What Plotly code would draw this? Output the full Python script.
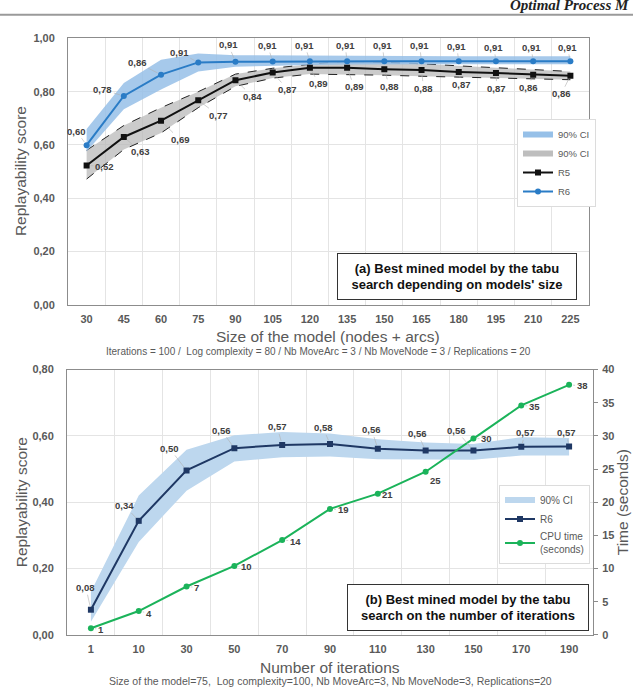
import plotly.graph_objects as go

# ---------------- data: chart (a) ----------------
size_cats = ["30", "45", "60", "75", "90", "105", "120", "135", "150", "165", "180", "195", "210", "225"]
r5 = [0.523, 0.630, 0.691, 0.768, 0.843, 0.872, 0.890, 0.890, 0.884, 0.881, 0.874, 0.870, 0.864, 0.860]
r5_lo = [0.472, 0.583, 0.645, 0.740, 0.820, 0.851, 0.866, 0.865, 0.862, 0.858, 0.855, 0.851, 0.848, 0.845]
r5_hi = [0.580, 0.673, 0.740, 0.800, 0.866, 0.888, 0.903, 0.915, 0.910, 0.905, 0.897, 0.890, 0.882, 0.876]
r6 = [0.599, 0.784, 0.864, 0.910, 0.912, 0.913, 0.914, 0.914, 0.914, 0.914, 0.914, 0.914, 0.914, 0.914]
r6_lo = [0.575, 0.734, 0.808, 0.876, 0.894, 0.898, 0.900, 0.902, 0.903, 0.903, 0.903, 0.903, 0.903, 0.903]
r6_hi = [0.660, 0.833, 0.920, 0.943, 0.937, 0.936, 0.936, 0.935, 0.933, 0.933, 0.933, 0.933, 0.933, 0.933]

# ---------------- data: chart (b) ----------------
iter_cats = ["1", "10", "30", "50", "70", "90", "110", "130", "150", "170", "190"]
r6b = [0.076, 0.344, 0.496, 0.563, 0.573, 0.576, 0.561, 0.556, 0.556, 0.567, 0.568]
r6b_lo = [0.040, 0.280, 0.435, 0.523, 0.536, 0.538, 0.530, 0.530, 0.528, 0.541, 0.541]
r6b_hi = [0.130, 0.420, 0.558, 0.602, 0.612, 0.607, 0.590, 0.580, 0.576, 0.596, 0.594]
cpu = [1.0, 3.6, 7.3, 10.4, 14.3, 19.0, 21.3, 24.6, 29.6, 34.6, 37.7]

# label offsets (pixels) – styling only
r6_off = [(-10, -14), (-21, -6), (-24, -12), (-19, -10), (-7, -17), (-5, -16), (-5, -16),
          (-2, -16), (-2, -16), (-2, -16), (-2, -15), (-2, -14), (-2, -14), (-3, -14)]
r5_off = [(18, 1), (17, 15), (19, 19), (20, 15), (17, 16), (15, 17), (9, 16),
          (7, 19), (5, 17), (2, 18), (3, 13), (1, 15), (-5, 13), (-9, 18)]
r6b_off = [(-5, -22), (-14, -15), (-17, -22), (-13, -18), (-5, -18), (-7, -16),
           (-6, -19), (-8, -17), (-17, -20), (4, -14), (-3, -14)]
cpu_off = [(10, 1), (10, 2), (10, 1), (12, 1), (13, 1), (13, 1), (10, 1), (10, 9), (13, 0), (13, 1), (13, 1)]

W, H = 633, 693
def px(x):
    return x / W
def py(y):
    return 1 - y / H

FONT = "Liberation Sans"
GRID = "#e4e4e4"
LINE = "#8c8c8c"
TICKF = dict(family=FONT, size=11, color="#595959", weight="bold")

BLUE = "#2a7cc6"
BLUE_BAND = "rgba(150,192,232,0.85)"
GRAY_BAND = "rgba(185,185,185,0.75)"
NAVY = "#1f3864"
BAND_B = "#bdd7ee"
GREEN = "#1bb35a"

fig = go.Figure()

# ---- chart (a) ----
fig.add_trace(go.Scatter(x=size_cats, y=r5_lo, mode="lines", line=dict(color="#222", width=1, dash="dash"),
                         showlegend=False, hoverinfo="skip", xaxis="x", yaxis="y"))
fig.add_trace(go.Scatter(x=size_cats, y=r5_hi, mode="lines", line=dict(color="#222", width=1, dash="dash"),
                         fill="tonexty", fillcolor=GRAY_BAND, showlegend=False, hoverinfo="skip", xaxis="x", yaxis="y"))
fig.add_trace(go.Scatter(x=size_cats, y=r6_lo, mode="lines", line=dict(width=0, color=BLUE_BAND),
                         showlegend=False, hoverinfo="skip", xaxis="x", yaxis="y"))
fig.add_trace(go.Scatter(x=size_cats, y=r6_hi, mode="lines", line=dict(width=0, color=BLUE_BAND),
                         fill="tonexty", fillcolor=BLUE_BAND, showlegend=False, hoverinfo="skip", xaxis="x", yaxis="y"))
# legend dummies
fig.add_trace(go.Scatter(x=[None], y=[None], mode="lines", line=dict(color="rgb(150,192,232)", width=6),
                         name="90% CI", legend="legend", xaxis="x", yaxis="y"))
fig.add_trace(go.Scatter(x=[None], y=[None], mode="lines", line=dict(color="rgb(190,190,190)", width=6),
                         name="90% CI", legend="legend", xaxis="x", yaxis="y"))
fig.add_trace(go.Scatter(x=size_cats, y=r5, mode="lines+markers", name="R5",
                         line=dict(color="#111111", width=2), marker=dict(symbol="square", size=6, color="#111111"),
                         legend="legend", xaxis="x", yaxis="y"))
fig.add_trace(go.Scatter(x=size_cats, y=r6, mode="lines+markers", name="R6",
                         line=dict(color=BLUE, width=2), marker=dict(symbol="circle", size=6, color=BLUE),
                         legend="legend", xaxis="x", yaxis="y"))

# ---- chart (b) ----
fig.add_trace(go.Scatter(x=iter_cats, y=r6b_lo, mode="lines", line=dict(width=0, color=BAND_B),
                         showlegend=False, hoverinfo="skip", xaxis="x2", yaxis="y2"))
fig.add_trace(go.Scatter(x=iter_cats, y=r6b_hi, mode="lines", line=dict(width=0, color=BAND_B),
                         fill="tonexty", fillcolor=BAND_B, showlegend=False, hoverinfo="skip", xaxis="x2", yaxis="y2"))
fig.add_trace(go.Scatter(x=[None], y=[None], mode="lines", line=dict(color=BAND_B, width=6),
                         name="90% CI", legend="legend2", legendgroup="a", xaxis="x2", yaxis="y2"))
fig.add_trace(go.Scatter(x=iter_cats, y=r6b, mode="lines+markers", name="R6",
                         line=dict(color=NAVY, width=2), marker=dict(symbol="square", size=6, color=NAVY),
                         legend="legend2", legendgroup="b", xaxis="x2", yaxis="y2"))
fig.add_trace(go.Scatter(x=iter_cats, y=cpu, mode="lines+markers", name="CPU time<br>(seconds)",
                         line=dict(color=GREEN, width=2), marker=dict(symbol="circle", size=6, color=GREEN),
                         legend="legend2", legendgroup="c", xaxis="x2", yaxis="y3"))

ann = []
LBLF = dict(family=FONT, size=9.5, color="#404040", weight="bold")
def add_lbl(i, y, txt, off, xr, yr):
    ann.append(dict(x=i, y=y, xref=xr, yref=yr, text=txt, showarrow=True, ax=off[0], ay=off[1],
                    arrowhead=0, arrowwidth=0.6, arrowcolor="#b0b0b0", standoff=4, font=LBLF))

for i, (v, o) in enumerate(zip(r6, r6_off)):
    add_lbl(i, v, f"{v:.2f}".replace(".", ","), o, "x", "y")
for i, (v, o) in enumerate(zip(r5, r5_off)):
    add_lbl(i, v, f"{v:.2f}".replace(".", ","), o, "x", "y")
for i, (v, o) in enumerate(zip(r6b, r6b_off)):
    add_lbl(i, v, f"{v:.2f}".replace(".", ","), o, "x2", "y2")
for i, (v, o) in enumerate(zip(cpu, cpu_off)):
    add_lbl(i, v, f"{v:.0f}", o, "x2", "y3")

TITF = dict(family=FONT, size=15.5, color="#595959")
SUBF = dict(family=FONT, size=10, color="#595959")
C = dict(xref="paper", yref="paper", xanchor="center", yanchor="middle", showarrow=False)
ann += [
    dict(x=px(20), y=py(168), text="Replayability score", textangle=-90, font=TITF, **C),
    dict(x=px(328), y=py(336), text="Size of the model (nodes + arcs)", font=TITF, **C),
    dict(x=px(318), y=py(352),
         text="Iterations = 100 /  Log complexity = 80 / Nb MoveArc = 3 / Nb MoveNode = 3 / Replications = 20",
         font=SUBF, **C),
    dict(x=px(21), y=py(505), text="Replayability score", textangle=-90, font=TITF, **C),
    dict(x=px(622), y=py(505), text="Time (seconds)", textangle=-90, font=TITF, **C),
    dict(x=px(330), y=py(673), text="Number of iterations", font=TITF, **C),
    dict(x=px(330), y=py(687),
         text="Size of the model=75,  Log complexity=100, Nb MoveArc=3, Nb MoveNode=3, Replications=20",
         font=dict(family=FONT, size=10.5, color="#595959"), **C),
    dict(x=px(457), y=py(275.5),
         text="(a) Best mined model by the tabu<br>search depending on models' size",
         font=dict(family=FONT, size=13, color="#111", weight="bold"),
         bordercolor="#333", borderwidth=1, bgcolor="white", width=232, height=39, borderpad=3, **C),
    dict(x=px(468), y=py(612.5),
         text="(b) Best mined model by the tabu<br>search on the number of iterations",
         font=dict(family=FONT, size=13, color="#111", weight="bold"),
         bordercolor="#333", borderwidth=1, bgcolor="white", width=234, height=39, borderpad=3, **C),
    dict(x=px(508), y=py(-1), xref="paper", yref="paper", xanchor="left", yanchor="middle",
         text="Optimal Process M", showarrow=False,
         font=dict(family="Liberation Serif", size=15, color="#222", weight="bold", style="italic")),
]

fig.add_shape(type="line", xref="paper", yref="paper", x0=0, x1=1, y0=py(9), y1=py(9),
              line=dict(color="#9a9a9a", width=2))

common_x = dict(type="category", tickson="boundaries", ticks="", showgrid=True, gridcolor=GRID,
                showline=True, linecolor=LINE, linewidth=1, mirror=True, tickfont=TICKF, zeroline=False,
                ticklabelstandoff=4, autorange=False, tickangle=0)
common_y = dict(showgrid=True, gridcolor=GRID, showline=True, linecolor=LINE, linewidth=1, mirror=True,
                tickfont=TICKF, zeroline=False, ticks="", tickformat=".2f", ticklabelstandoff=10, autorange=False)

fig.update_layout(
    width=W, height=H, margin=dict(l=0, r=0, t=0, b=0),
    plot_bgcolor="white", paper_bgcolor="white", separators=",.",
    xaxis=dict(domain=[px(68), px(589)], anchor="y", categoryorder="array", categoryarray=size_cats,
               range=[-0.5, len(size_cats) - 0.5], **common_x),
    yaxis=dict(domain=[py(304), py(33)], anchor="x", range=[0, 1], dtick=0.2, **common_y),
    xaxis2=dict(domain=[px(67), px(593)], anchor="y2", categoryorder="array", categoryarray=iter_cats,
                range=[-0.5, len(iter_cats) - 0.5], **common_x),
    yaxis2=dict(domain=[py(640), py(370)], anchor="x2", range=[0, 0.8], dtick=0.2, **common_y),
    yaxis3=dict(overlaying="y2", side="right", anchor="x2", range=[0, 40], dtick=5, showgrid=False,
                showline=True, linecolor=LINE, ticks="outside", ticklen=4, tickcolor=LINE,
                tickfont=TICKF, zeroline=False, ticklabelstandoff=2, autorange=False),
    legend=dict(x=px(517), y=py(115), xanchor="left", yanchor="top", bgcolor="white", traceorder="normal",
                bordercolor="#dcdcdc", borderwidth=1, font=dict(family=FONT, size=9.5, color="#595959"),
                itemwidth=30, tracegroupgap=0),
    legend2=dict(x=px(499), y=py(487), xanchor="left", yanchor="top", bgcolor="white", traceorder="normal",
                 bordercolor="#dcdcdc", borderwidth=1, font=dict(family=FONT, size=10, color="#595959"),
                 itemwidth=30, tracegroupgap=3),
    annotations=ann,
    showlegend=True,
)

page_css = ("var s=document.createElement('style');"
            "s.textContent='html,body{margin:0;padding:0;overflow:hidden;height:693px;}';"
            "document.head.appendChild(s);")
fig.write_html("out.html", config={"displayModeBar": False}, post_script=page_css)
